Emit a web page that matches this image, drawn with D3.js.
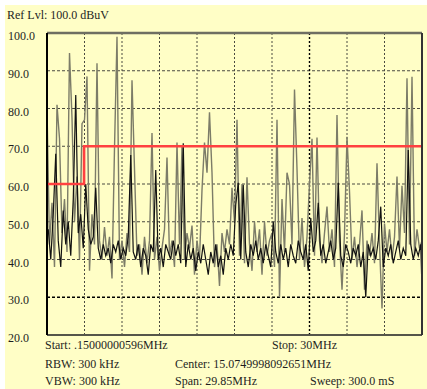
<!DOCTYPE html>
<html>
<head>
<meta charset="utf-8">
<script src="https://cdn.jsdelivr.net/npm/d3@7"></script>
<style>
  html, body { margin: 0; padding: 0; background: #ffffff; }
  svg { display: block; }
  text { font-family: "Liberation Serif", "Times New Roman", serif; fill: #1e1e1e; }
</style>
</head>
<body>
<svg id="chart" width="427" height="389"></svg>
<script>
// ---------- data ----------
const freqStart = 0.15;   // MHz
const freqStop = 30;      // MHz
const levelTicks = [100, 90, 80, 70, 60, 50, 40, 30, 20];
const gridDivisions = 10;

// limit line (MHz, dBuV)
const limitFreq  = [0.15, 3.1, 3.1, 30];
const limitLevel = [60, 60, 70, 70];

// trace sampled evenly from start to stop (dBuV)
const grayTrace = [
  80, 44, 55, 38, 81, 72, 47, 56, 42, 94.7,
  77.5, 50, 62, 40, 76, 77, 88.5, 37, 52, 44,
  92, 45, 40, 48.6, 41, 46, 35, 69.5, 99, 40,
  45, 38, 47, 42, 87.5, 64, 41, 44, 36, 46,
  39, 45, 73.5, 40, 46, 37, 43, 48, 67, 41,
  45, 38, 71, 44, 70, 40, 47, 43, 49, 36,
  45, 40, 58.4, 71, 63, 79, 63, 38, 44, 33,
  47, 42, 48, 44, 59, 50, 77, 41, 60, 39,
  61.8, 44, 37, 50, 42, 48, 36, 50, 41, 45,
  47, 38, 77, 30, 56, 42, 63, 60, 44, 85,
  64, 40, 51, 38, 46, 60, 72, 41, 72.3, 45,
  39, 47, 54, 42, 48, 38, 78.3, 45, 32, 47,
  72.5, 58, 40, 46, 38, 44, 53, 32, 45, 41,
  47, 39, 65.5, 44, 27, 49.5, 42, 48, 40, 46,
  62, 43, 59.5, 47, 88, 44, 88.4, 41, 48, 43,
  45
];
// second sweep, sampled half a step later
const blackTrace = [
  48, 40, 52, 68, 45, 38, 53, 44, 50, 41,
  56, 83.6, 47, 52, 43, 60, 48, 44, 46, 59,
  43, 40, 44, 41, 43, 39, 44, 42, 45, 40,
  43, 41, 46, 67.7, 42, 40, 44, 38, 43, 41,
  36, 44, 42, 63.7, 40, 43, 38, 44, 42, 40,
  45, 41, 44, 39, 70.8, 38, 44, 40, 43, 37,
  42, 39, 44, 40, 36, 42, 39, 44, 38, 41,
  36, 43, 40, 44, 41, 54.5, 60.3, 40, 59.8, 42,
  38, 44, 41, 45, 40, 43, 39, 44, 41, 38,
  50, 42, 39, 44, 40, 43, 38, 44, 41, 39,
  45, 42, 40, 44, 37, 51, 42, 45, 55, 41,
  44, 39, 42, 45, 40, 43, 60.3, 41, 38, 44,
  42, 39, 43, 41, 44, 38, 42, 30, 44, 41,
  43, 40, 45, 54, 38, 43, 41, 44, 39, 42,
  45, 40, 43, 41, 69, 44, 40, 43, 41, 44,
  32
];

const header = "Ref Lvl: 100.0 dBuV";
const infoTexts = [
  {t: "Start: .15000000596MHz", col: 0, row: 0},
  {t: "Stop: 30MHz", col: 2, row: 0},
  {t: "RBW: 300 kHz", col: 0, row: 1},
  {t: "Center: 15.0749998092651MHz", col: 1, row: 1},
  {t: "VBW: 300 kHz", col: 0, row: 2},
  {t: "Span: 29.85MHz", col: 1, row: 2},
  {t: "Sweep: 300.0 mS", col: 3, row: 2}
];

// ---------- layout ----------
const W = 427, H = 389;
const plot = {left: 47, right: 422, top: 33, bottom: 335};
const bg = "#fffec6";

const svg = d3.select("#chart");
svg.append("rect").attr("x", 0).attr("y", 0).attr("width", W).attr("height", H).attr("fill", "#ffffff");
svg.append("rect").attr("x", 5).attr("y", 5).attr("width", W - 5).attr("height", H - 5).attr("fill", bg);

svg.append("defs").append("clipPath").attr("id", "plotclip")
  .append("rect").attr("x", plot.left).attr("y", plot.top)
  .attr("width", plot.right - plot.left).attr("height", plot.bottom - plot.top);

const x = d3.scaleLinear().domain([freqStart, freqStop]).range([plot.left, plot.right]);
const y = d3.scaleLinear().domain([20, 100]).range([plot.bottom, plot.top]);

// header
svg.append("text").attr("x", 7).attr("y", 19).attr("font-size", 12).text(header);

// horizontal grid
const hGrid = svg.append("g");
levelTicks.filter(v => v > 20 && v < 100).forEach(v => {
  hGrid.append("line")
    .attr("x1", plot.left).attr("x2", plot.right)
    .attr("y1", y(v)).attr("y2", y(v))
    .attr("stroke", v === 30 ? "#000" : "#4a4a40")
    .attr("stroke-width", v === 30 ? 1.4 : 1)
    .attr("stroke-dasharray", "3,2");
});

// vertical grid
const step = (freqStop - freqStart) / gridDivisions;
const vGridFreqs = d3.range(1, gridDivisions).map(k => freqStart + k * step);
vGridFreqs.forEach((f, k) => {
  svg.append("line")
    .attr("x1", x(f)).attr("x2", x(f))
    .attr("y1", plot.top).attr("y2", plot.bottom)
    .attr("stroke", k === 6 ? "#000" : "#4a4a40")
    .attr("stroke-width", k === 6 ? 1.4 : 1)
    .attr("stroke-dasharray", "2,2");
});

// y axis labels via d3 axis
const yAxis = d3.axisLeft(y).tickValues(levelTicks).tickFormat(d3.format(".1f")).tickSize(0);
const yg = svg.append("g").attr("transform", `translate(${plot.left},0)`).call(yAxis);
yg.select(".domain").remove();
yg.selectAll("text")
  .attr("text-anchor", "start")
  .attr("x", 8 - plot.left)
  .attr("dy", "0.55em")
  .attr("font-size", 12)
  .attr("font-family", "'Liberation Serif', 'Times New Roman', serif")
  .attr("fill", "#1e1e1e");

// traces
const n = grayTrace.length;
const fAt = i => freqStart + i * (freqStop - freqStart) / (n - 1);
const grayLine = d3.line().x((d, i) => x(fAt(i))).y(d => y(d));
const blackLine = d3.line().x((d, i) => x(fAt(Math.min(i + 0.5, n - 1)))).y(d => y(d));

const traces = svg.append("g").attr("clip-path", "url(#plotclip)");
traces.append("path").datum(grayTrace)
  .attr("d", grayLine).attr("fill", "none")
  .attr("stroke", "#7c7c68").attr("stroke-width", 1.4);
traces.append("path").datum(blackTrace)
  .attr("d", blackLine).attr("fill", "none")
  .attr("stroke", "#121212").attr("stroke-width", 1.2);

// limit line
const limitLine = d3.line().x((d, i) => x(limitFreq[i])).y(d => y(d));
svg.append("path").datum(limitLevel)
  .attr("d", limitLine).attr("fill", "none")
  .attr("stroke", "#ff4040").attr("stroke-width", 2.6);

// frame
svg.append("line").attr("x1", plot.left).attr("x2", plot.right).attr("y1", plot.top).attr("y2", plot.top)
  .attr("stroke", "#6e6e62").attr("stroke-width", 2.5);
svg.append("line").attr("x1", plot.left).attr("x2", plot.right).attr("y1", plot.bottom).attr("y2", plot.bottom)
  .attr("stroke", "#55554a").attr("stroke-width", 2);
svg.append("line").attr("x1", plot.left).attr("x2", plot.left).attr("y1", plot.top).attr("y2", plot.bottom)
  .attr("stroke", "#000").attr("stroke-width", 2);
svg.append("line").attr("x1", plot.right).attr("x2", plot.right).attr("y1", plot.top).attr("y2", plot.bottom)
  .attr("stroke", "#333").attr("stroke-width", 2);

// info texts
const colX = [45, 175, 272, 310];
const rowY = [349, 368, 385];
svg.append("g").selectAll("text").data(infoTexts).join("text")
  .attr("x", d => colX[d.col]).attr("y", d => rowY[d.row])
  .attr("font-size", 12).text(d => d.t);
</script>
</body>
</html>
